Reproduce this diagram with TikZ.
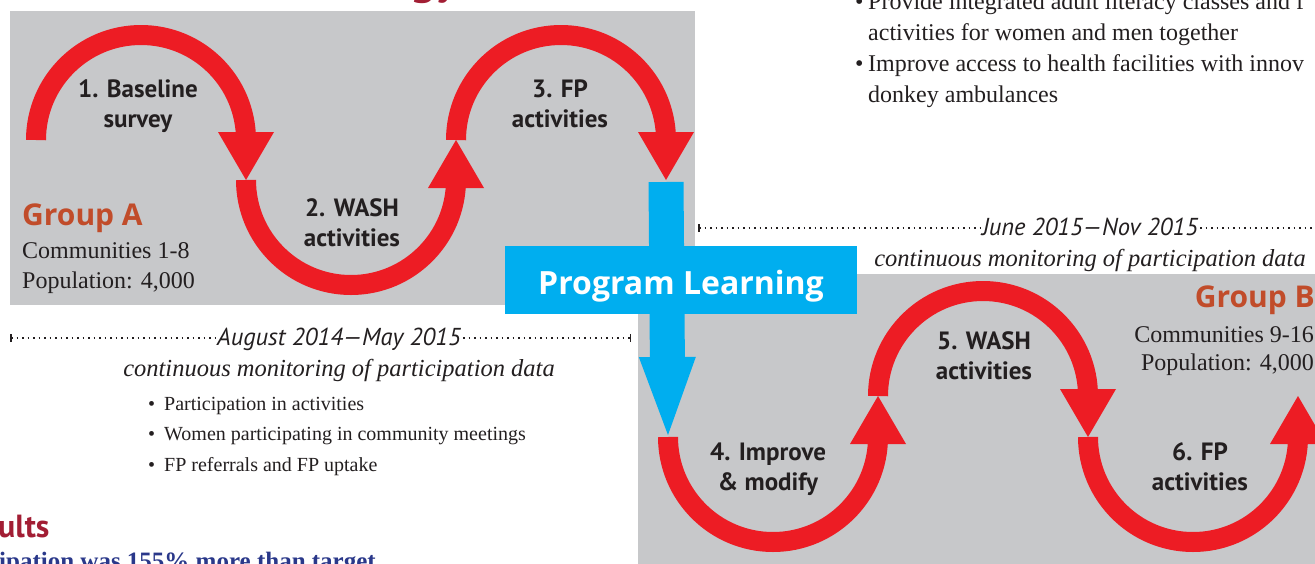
\documentclass[tikz,border=0pt]{standalone}
\usepackage{fontspec}
\setmainfont{Liberation Serif}
\newfontfamily\myriad{PT Sans}
\newfontfamily\headsans{Open Sans}
\usetikzlibrary{arrows.meta}

\definecolor{panelgrey}{RGB}{199,200,202}
\definecolor{arcred}{RGB}{237,28,36}
\definecolor{learnblue}{RGB}{0,174,239}
\definecolor{groupbrown}{RGB}{193,76,42}
\definecolor{titlered}{RGB}{162,30,52}
\definecolor{ink}{RGB}{35,31,32}
\definecolor{resultblue}{RGB}{42,56,138}

\newcommand{\stagefont}{\myriad\bfseries\fontsize{25}{30}\selectfont}
\newcommand{\bul}{\makebox[13pt][l]{\textbullet}}

\tikzset{
  redarc/.style={draw=arcred, line width=20pt, -{Triangle[width=56pt,length=48pt,line width=0pt]}},
  learnarrow/.style={draw=learnblue, line width=35pt, -{Triangle[width=57pt,length=78pt,line width=0pt]}},
  stage/.style={font=\stagefont, text=ink, align=center, anchor=base, inner sep=0pt},
  grouphead/.style={font=\headsans\bfseries\fontsize{30}{36}\selectfont, text=groupbrown, inner sep=0pt},
  serif/.style={font=\fontsize{24}{30}\selectfont, text=ink, inner sep=0pt},
  datefont/.style={font=\myriad\itshape\fontsize{24.5}{28}\selectfont, text=ink, inner sep=2pt, anchor=base},
  dotline/.style={draw=ink, line width=1.5pt, dash pattern=on 1.5pt off 4pt}
}

\begin{document}
\begin{tikzpicture}[x=1pt, y=-1pt]
  \clip (0,0) rectangle (1315,563);
  \fill[white] (0,0) rectangle (1315,563);

  %% panels
  \fill[panelgrey] (10,11) rectangle (695,305);
  \fill[panelgrey] (638,274) rectangle (1320,570);

  %% arc ends
  \coordinate (a0) at (36,140);
  \coordinate (a1) at (246,180);
  \coordinate (a2) at (456,140);
  \coordinate (a3) at (666,180);
  \coordinate (b0) at (668,437);
  \coordinate (b1) at (878,396);
  \coordinate (b2) at (1088,437);
  \coordinate (b3) at (1298,396);

  \draw[redarc] (a0) arc[start angle=180, end angle=360, radius=105] -- (a1); %% 1
  \draw[redarc] (a1) arc[start angle=180, end angle=0, radius=105] -- (a2);   %% 2
  \draw[redarc] (a2) arc[start angle=180, end angle=360, radius=105] -- (a3); %% 3
  \draw[redarc] (b0) arc[start angle=180, end angle=0, radius=105] -- (b1);   %% 4
  \draw[redarc] (b1) arc[start angle=180, end angle=360, radius=105] -- (b2); %% 5
  \draw[redarc] (b2) arc[start angle=180, end angle=0, radius=105] -- (b3);   %% 6

  %% base = last line
  \node[stage] (baseline) at (138,127) {1. Baseline\\survey};
  \node[stage] (washA) at (352,246) {2. WASH\\activities};
  \node[stage] (fpA) at (560,127) {3. FP\\activities};
  \node[stage] (improve) at (768,490) {4. Improve\\\& modify};
  \node[stage] (washB) at (984,379) {5. WASH\\activities};
  \node[stage] (fpB) at (1200,490) {6. FP\\activities};

  %% program learning
  \draw[learnarrow, shorten <=2pt, shorten >=2pt] (a3) -- (b0);
  \node[fill=learnblue, text=white, font=\headsans\bfseries\fontsize{32}{40}\selectfont,
        minimum width=352pt, inner ysep=0pt, text height=48pt, text depth=20pt] (learn) at (681,280) {Program Learning};

  %% groups
  \node[grouphead, anchor=base west] (groupA) at (22,225) {Group A};
  \node[serif, anchor=base west, align=left] (popA) at (22,288) {Communities 1-8\\Population: 4,000};
  \node[grouphead, anchor=base east] (groupB) at (1315,307) {Group B};
  \node[serif, anchor=base east, align=right, font=\fontsize{24}{28}\selectfont] (popB) at (1314,370) {Communities 9-16\\Population: 4,000};

  %% timelines
  \node[datefont] (dateA) at (339,345) {August 2014—May 2015};
  \coordinate (tA0) at (10,338);
  \coordinate (tA1) at (631,338);
  \draw[dotline, {Bar[width=8pt]}-] (tA0) -- (dateA.west |- tA0);
  \draw[dotline, -{Bar[width=8pt]}] (dateA.east |- tA0) -- (tA1);
  \node[serif, anchor=base, font=\itshape\fontsize{24.5}{28}\selectfont] (monA) at (339,376) {continuous monitoring of participation data};
  \node[serif, anchor=base west, align=left, font=\fontsize{20}{30.5}\selectfont] (measures) at (148,471)
    {\makebox[16pt][l]{\textbullet}Participation in activities\\
     \makebox[16pt][l]{\textbullet}Women participating in community meetings\\
     \makebox[16pt][l]{\textbullet}FP referrals and FP uptake};

  \node[datefont] (dateB) at (1090,235) {June 2015—Nov 2015};
  \coordinate (tB0) at (698,228);
  \coordinate (tB1) at (1320,228);
  \draw[dotline, {Bar[width=8pt]}-] (tB0) -- (dateB.west |- tB0);
  \draw[dotline] (dateB.east |- tB0) -- (tB1);
  \node[serif, anchor=base, font=\itshape\fontsize{24.5}{28}\selectfont] (monB) at (1090,266) {continuous monitoring of participation data};

  %% cut-off texts of the poster
  \node[serif, anchor=base west, align=left, font=\fontsize{24}{31}\selectfont] (aims) at (855,102)
    {\bul Provide integrated adult literacy classes and f\\
     \hspace*{13pt}activities for women and men together\\
     \bul Improve access to health facilities with innov\\
     \hspace*{13pt}donkey ambulances};
  \node[anchor=base west, inner sep=0pt, text=titlered, font=\myriad\bfseries\fontsize{48}{50}\selectfont] (title) at (410,-7) {gy};
  \node[anchor=base west, inner sep=0pt, text=titlered, font=\myriad\bfseries\fontsize{32}{36}\selectfont] (results) at (-2,537) {ults};
  \node[anchor=base west, inner sep=0pt, text=resultblue, font=\bfseries\fontsize{25}{28}\selectfont] (target) at (-1,569) {ipation was 155\% more than target};
\end{tikzpicture}
\end{document}
